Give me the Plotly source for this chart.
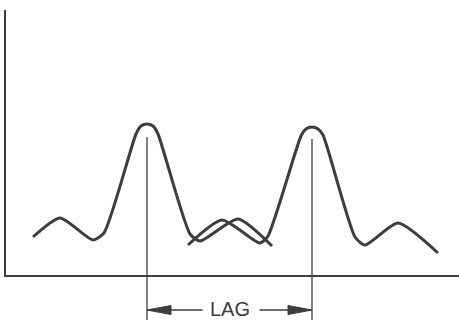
import plotly.graph_objects as go

# two correlated waveforms, the second delayed by the lag
wave1_x = [33, 60, 93, 104, 136, 141, 147, 153, 158, 190, 200, 238, 272]
wave1_y = [39, 58, 36, 43, 142, 150, 152, 150, 142, 42, 35, 57, 30]

wave2_x = [188, 222, 260, 268, 301, 306, 312, 318, 323, 355, 365, 398, 438]
wave2_y = [31, 56, 33, 40, 140, 147, 149, 147, 141, 39, 31, 53, 23]

peak_x = [147, 312]
peak_top = [139, 137]
lag_label = "LAG"

ink = "#3d3d3d"
y_bottom, y_top = -44, 276
lag_y = -34

fig = go.Figure()

# frame: y axis and baseline
fig.add_trace(go.Scatter(x=[5, 5, 459], y=[266, 0, 0], mode="lines",
                         line=dict(color=ink, width=2), hoverinfo="skip"))

for xs, ys in [(wave1_x, wave1_y), (wave2_x, wave2_y)]:
    fig.add_trace(go.Scatter(x=xs, y=ys, mode="lines",
                             line=dict(color=ink, width=3, shape="spline", smoothing=0.6),
                             hoverinfo="skip"))

# vertical marks through the peaks
for px, pt in zip(peak_x, peak_top):
    fig.add_trace(go.Scatter(x=[px, px], y=[pt, y_bottom], mode="lines",
                             line=dict(color=ink, width=1.3), hoverinfo="skip"))

mid = (peak_x[0] + peak_x[1]) / 2
gap = 27
head_len, head_w = 24, 4.5
left, right = peak_x
fig.add_trace(go.Scatter(x=[left, mid - gap], y=[lag_y, lag_y], mode="lines",
                         line=dict(color=ink, width=1.5), hoverinfo="skip"))
fig.add_trace(go.Scatter(x=[mid + gap + 3, right], y=[lag_y, lag_y], mode="lines",
                         line=dict(color=ink, width=1.5), hoverinfo="skip"))

# arrow heads
fig.add_shape(type="path", fillcolor=ink, line=dict(color=ink, width=1),
              path=f"M {left} {lag_y} L {left + head_len} {lag_y + head_w} "
                   f"L {left + head_len} {lag_y - head_w} Z")
fig.add_shape(type="path", fillcolor=ink, line=dict(color=ink, width=1),
              path=f"M {right} {lag_y} L {right - head_len} {lag_y + head_w} "
                   f"L {right - head_len} {lag_y - head_w} Z")

fig.add_annotation(x=mid, y=lag_y + 1, text=lag_label, showarrow=False,
                   height=18, borderpad=0,
                   font=dict(family="Liberation Sans", size=20, color=ink))

fig.update_layout(
    width=459, height=320,
    margin=dict(l=0, r=0, t=0, b=0),
    paper_bgcolor="white", plot_bgcolor="white",
    showlegend=False,
    xaxis=dict(range=[0, 459], visible=False),
    yaxis=dict(range=[y_bottom, y_top], visible=False),
)

fig.write_html("out.html", config={"displayModeBar": False},
               post_script="document.body.style.margin='0';")
